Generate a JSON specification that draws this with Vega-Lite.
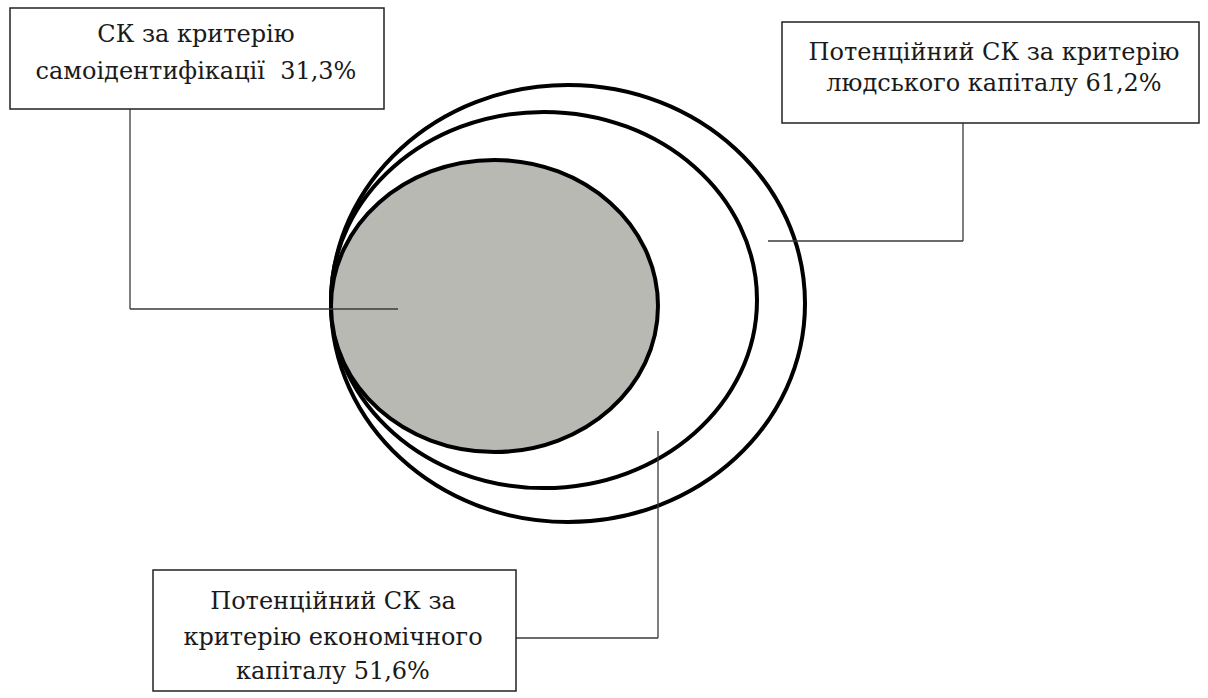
{
  "$schema": "https://vega.github.io/schema/vega-lite/v6.json",
  "width": 1208,
  "height": 698,
  "autosize": {"type": "fit", "contains": "padding"},
  "padding": 0,
  "background": "#ffffff",
  "config": {"view": {"stroke": null}},
  "datasets": {
    "ellipses": [
      {"ellipse": "outer", "cx": 568, "cy": 303.5, "rx": 237, "ry": 218.5},
      {"ellipse": "middle", "cx": 544, "cy": 300, "rx": 213, "ry": 188},
      {"ellipse": "inner", "cx": 494.5, "cy": 306, "rx": 163.5, "ry": 146}
    ],
    "links": [
      {"x": 130, "y": 109, "x2": 130, "y2": 309},
      {"x": 130, "y": 309, "x2": 398, "y2": 309},
      {"x": 963, "y": 123, "x2": 963, "y2": 241},
      {"x": 768, "y": 241, "x2": 963, "y2": 241},
      {"x": 515, "y": 638, "x2": 658, "y2": 638},
      {"x": 658, "y": 431, "x2": 658, "y2": 638}
    ],
    "boxes": [
      {"x": 10, "y": 8, "x2": 384, "y2": 109},
      {"x": 782, "y": 22, "x2": 1199, "y2": 123},
      {"x": 153, "y": 570, "x2": 516, "y2": 691}
    ],
    "labels": [
      {"x": 196, "y": 42, "text": "СК за критерію"},
      {"x": 196, "y": 79, "text": "самоідентифікації\u00a0 31,3%"},
      {"x": 994, "y": 60, "text": "Потенційний СК за критерію"},
      {"x": 994, "y": 91, "text": "людського капіталу 61,2%"},
      {"x": 333, "y": 609, "text": "Потенційний СК за"},
      {"x": 333, "y": 645, "text": "критерію економічного"},
      {"x": 333, "y": 679, "text": "капіталу 51,6%"}
    ]
  },
  "layer": [
    {
      "data": {"name": "ellipses"},
      "mark": {"type": "point", "filled": true, "opacity": 1, "stroke": "#000000", "strokeWidth": 4},
      "encoding": {
        "x": {"field": "cx", "type": "quantitative", "scale": {"domain": [0, 1208], "zero": false, "nice": false}, "axis": null},
        "y": {"field": "cy", "type": "quantitative", "scale": {"domain": [0, 698], "reverse": true, "zero": false, "nice": false}, "axis": null},
        "size": {"field": "rx", "type": "quantitative", "scale": {"type": "pow", "exponent": 2, "domain": [0, 300], "range": [0, 360000]}, "legend": null},
        "shape": {"field": "ellipse", "type": "nominal", "scale": {"domain": ["outer", "middle", "inner"], "range": ["M-1,0A1,0.922,0,1,1,1,0A1,0.922,0,1,1,-1,0Z", "M-1,0A1,0.883,0,1,1,1,0A1,0.883,0,1,1,-1,0Z", "M-1,0A1,0.893,0,1,1,1,0A1,0.893,0,1,1,-1,0Z"]}, "legend": null},
        "fill": {"field": "ellipse", "type": "nominal", "scale": {"domain": ["outer", "middle", "inner"], "range": ["transparent", "transparent", "#b9b9b4"]}, "legend": null},
        "order": {"field": "rx", "type": "quantitative", "sort": "descending"}
      }
    },
    {
      "data": {"name": "links"},
      "mark": {"type": "rule", "stroke": "#3a3a3a", "strokeWidth": 1.3},
      "encoding": {
        "x": {"field": "x", "type": "quantitative", "scale": {"domain": [0, 1208], "zero": false, "nice": false}, "axis": null},
        "y": {"field": "y", "type": "quantitative", "scale": {"domain": [0, 698], "reverse": true, "zero": false, "nice": false}, "axis": null},
        "x2": {"field": "x2"},
        "y2": {"field": "y2"}
      }
    },
    {
      "data": {"name": "boxes"},
      "mark": {"type": "rect", "fill": "#ffffff", "stroke": "#222222", "strokeWidth": 1.5},
      "encoding": {
        "x": {"field": "x", "type": "quantitative", "scale": {"domain": [0, 1208], "zero": false, "nice": false}, "axis": null},
        "y": {"field": "y", "type": "quantitative", "scale": {"domain": [0, 698], "reverse": true, "zero": false, "nice": false}, "axis": null},
        "x2": {"field": "x2"},
        "y2": {"field": "y2"}
      }
    },
    {
      "data": {"name": "labels"},
      "mark": {"type": "text", "align": "center", "baseline": "alphabetic", "font": "DejaVu Serif", "fontSize": 24, "color": "#1a1a1a"},
      "encoding": {
        "x": {"field": "x", "type": "quantitative", "scale": {"domain": [0, 1208], "zero": false, "nice": false}, "axis": null},
        "y": {"field": "y", "type": "quantitative", "scale": {"domain": [0, 698], "reverse": true, "zero": false, "nice": false}, "axis": null},
        "text": {"field": "text", "type": "nominal"}
      }
    }
  ]
}
